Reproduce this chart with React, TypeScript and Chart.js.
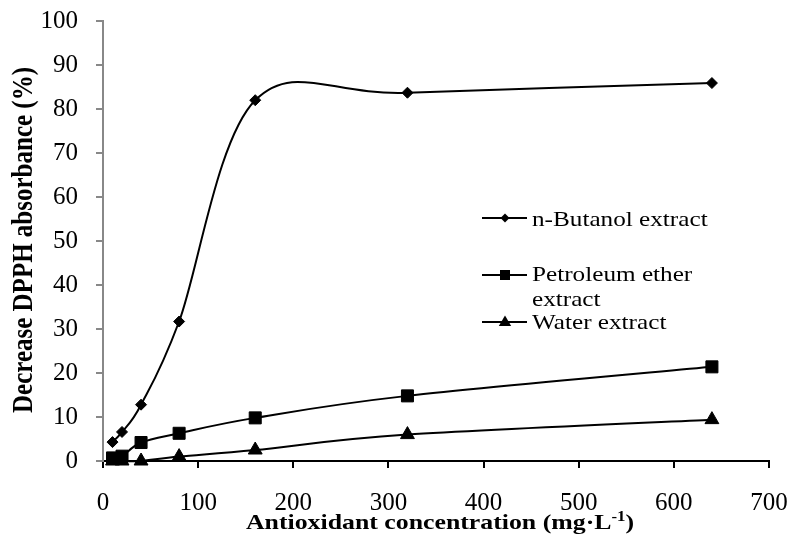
import React, { useEffect, useRef } from 'react';
import { Chart, registerables } from 'chart.js';

Chart.register(...registerables);

const concentrations = [10, 20, 40, 80, 160, 320, 640];
const butanolValues = [4.3, 6.6, 12.8, 31.7, 82.0, 83.7, 85.9];
const petroleumValues = [0.7, 1.1, 4.2, 6.3, 9.8, 14.8, 21.4];
const waterValues = [0, 0, 0, 1.0, 2.5, 6.0, 9.4];

const seriesNames = ['n-Butanol extract', 'Petroleum ether extract', 'Water extract'];
const legendLines = [['n-Butanol extract'], ['Petroleum ether', 'extract'], ['Water extract']];
const xTicks = [0, 100, 200, 300, 400, 500, 600, 700];
const yTicks = [0, 10, 20, 30, 40, 50, 60, 70, 80, 90, 100];
const xTitleMain = 'Antioxidant concentration (mg·L';
const xTitleSup = '-1';
const xTitleEnd = ')';
const yTitle = 'Decrease DPPH absorbance (%)';

const SERIF = '"Liberation Serif", "Times New Roman", serif';

function drawMarker(ctx: CanvasRenderingContext2D, style: string, x: number, y: number, r: number) {
  ctx.beginPath();
  if (style === 'rectRot') {
    ctx.moveTo(x - r, y);
    ctx.lineTo(x, y - r);
    ctx.lineTo(x + r, y);
    ctx.lineTo(x, y + r);
  } else if (style === 'rect') {
    ctx.rect(x - r, y - r, 2 * r, 2 * r);
  } else {
    ctx.moveTo(x, y - r);
    ctx.lineTo(x + r * 0.95, y + r * 0.6);
    ctx.lineTo(x - r * 0.95, y + r * 0.6);
  }
  ctx.closePath();
  ctx.fill();
}

// Excel-like smoothed line: Catmull-Rom style control points (1/6 of neighbour span)
const smoothPlugin = {
  id: 'excelSmooth',
  beforeDatasetsDraw(chart: any) {
    chart.data.datasets.forEach((_ds: any, i: number) => {
      const meta = chart.getDatasetMeta(i);
      const pts = meta.data;
      const n = pts.length;
      for (let k = 0; k < n; k++) {
        const p = pts[k];
        const prev = pts[Math.max(0, k - 1)];
        const next = pts[Math.min(n - 1, k + 1)];
        const dx = (next.x - prev.x) / 6;
        const dy = (next.y - prev.y) / 6;
        p.cp1x = p.x - dx;
        p.cp1y = p.y - dy;
        p.cp2x = p.x + dx;
        p.cp2y = p.y + dy;
      }
      if (meta.dataset) {
        meta.dataset._pointsUpdated = true;
        meta.dataset._path = undefined;
      }
    });
  },
};

const overlayPlugin = {
  id: 'overlayText',
  afterDraw(chart: any) {
    const ctx: CanvasRenderingContext2D = chart.ctx;
    ctx.save();
    ctx.fillStyle = '#000';
    ctx.strokeStyle = '#000';

    // Y title (rotated)
    ctx.save();
    ctx.translate(32, 240);
    ctx.rotate(-Math.PI / 2);
    ctx.scale(1, 1.2);
    ctx.font = `bold 25px ${SERIF}`;
    ctx.textAlign = 'center';
    ctx.textBaseline = 'alphabetic';
    ctx.fillText(yTitle, 0, 0);
    ctx.restore();

    // X title with superscript
    ctx.save();
    const mainFont = `bold 21.5px ${SERIF}`;
    const supFont = `bold 14px ${SERIF}`;
    ctx.font = mainFont;
    const w1 = ctx.measureText(xTitleMain).width;
    const w3 = ctx.measureText(xTitleEnd).width;
    ctx.font = supFont;
    const w2 = ctx.measureText(xTitleSup).width;
    const total = w1 + w2 + w3;
    ctx.translate(440, 529);
    ctx.scale(1.2, 1);
    ctx.textAlign = 'left';
    ctx.textBaseline = 'alphabetic';
    let cx = -total / 2;
    ctx.font = mainFont;
    ctx.fillText(xTitleMain, cx, 0);
    cx += w1;
    ctx.font = supFont;
    ctx.fillText(xTitleSup, cx, -8);
    cx += w2;
    ctx.font = mainFont;
    ctx.fillText(xTitleEnd, cx, 0);
    ctx.restore();

    // Legend
    const styles = ['rectRot', 'rect', 'triangle'];
    const markerSizes = [4.5, 5, 6.5];
    const lineYs = [218, 275, 322];
    const textRows = [[220], [275, 300], [323]];
    for (let i = 0; i < 3; i++) {
      ctx.lineWidth = 2;
      ctx.beginPath();
      ctx.moveTo(482, lineYs[i]);
      ctx.lineTo(527, lineYs[i]);
      ctx.stroke();
      drawMarker(ctx, styles[i], 505, lineYs[i], markerSizes[i]);
      ctx.save();
      ctx.font = `21px ${SERIF}`;
      ctx.textAlign = 'left';
      ctx.textBaseline = 'middle';
      legendLines[i].forEach((t, j) => {
        ctx.save();
        ctx.translate(532, textRows[i][j]);
        ctx.scale(1.2, 1);
        ctx.fillText(t, 0, 0);
        ctx.restore();
      });
      ctx.restore();
    }
    ctx.restore();
  },
};

export default function App() {
  const canvasRef = useRef<HTMLCanvasElement | null>(null);

  useEffect(() => {
    if (!canvasRef.current) return;
    const toPts = (vals: number[]) => concentrations.map((x, i) => ({ x, y: vals[i] }));
    const common = {
      borderColor: '#000',
      backgroundColor: '#000',
      pointBackgroundColor: '#000',
      pointBorderColor: '#000',
      borderWidth: 2,
      pointBorderWidth: 1,
      tension: 0.4,
      fill: false,
      clip: false as any,
    };
    const zeroPad = (scale: any) => {
      scale.paddingTop = 0;
      scale.paddingBottom = 0;
      scale.paddingLeft = 0;
      scale.paddingRight = 0;
    };
    const chart = new Chart(canvasRef.current, {
      type: 'line',
      data: {
        datasets: [
          { ...common, label: seriesNames[0], data: toPts(butanolValues), pointStyle: 'rectRot', pointRadius: 5.5 },
          { ...common, label: seriesNames[1], data: toPts(petroleumValues), pointStyle: 'rect', pointRadius: 8.5 },
          { ...common, label: seriesNames[2], data: toPts(waterValues), pointStyle: 'triangle', pointRadius: 8 },
        ],
      },
      options: {
        responsive: false,
        animation: false,
        devicePixelRatio: 1,
        layout: { padding: { left: 0, top: 21, right: 20, bottom: 0 } },
        plugins: {
          legend: { display: false },
          tooltip: { enabled: false },
        },
        scales: {
          x: {
            type: 'linear',
            min: 0,
            max: 700,
            afterFit: (scale: any) => {
              scale.height = 75;
              zeroPad(scale);
            },
            afterBuildTicks: (scale: any) => {
              scale.ticks = xTicks.map((v) => ({ value: v }));
            },
            ticks: {
              font: { family: SERIF, size: 25 },
              color: '#000',
              padding: 20,
              maxRotation: 0,
              autoSkip: false,
            },
            grid: {
              drawOnChartArea: false,
              drawTicks: true,
              tickLength: 7,
              color: '#000',
              lineWidth: 2,
            },
            border: { display: true, color: '#000', width: 2 },
            title: { display: false },
          },
          y: {
            type: 'linear',
            min: 0,
            max: 100,
            afterFit: (scale: any) => {
              scale.width = 103;
              zeroPad(scale);
            },
            afterBuildTicks: (scale: any) => {
              scale.ticks = yTicks.map((v) => ({ value: v }));
            },
            ticks: {
              font: { family: SERIF, size: 25 },
              color: '#000',
              padding: 18,
              autoSkip: false,
            },
            grid: {
              drawOnChartArea: false,
              drawTicks: true,
              tickLength: 7,
              color: '#888888',
              lineWidth: 2,
            },
            border: { display: true, color: '#888888', width: 2 },
            title: { display: false },
          },
        },
      },
      plugins: [smoothPlugin, overlayPlugin],
    });
    return () => chart.destroy();
  }, []);

  return (
    <div style={{ position: 'fixed', left: 0, top: 0, width: 789, height: 536, background: '#fff' }}>
      <canvas ref={canvasRef} width={789} height={536} style={{ width: 789, height: 536 }} />
    </div>
  );
}
